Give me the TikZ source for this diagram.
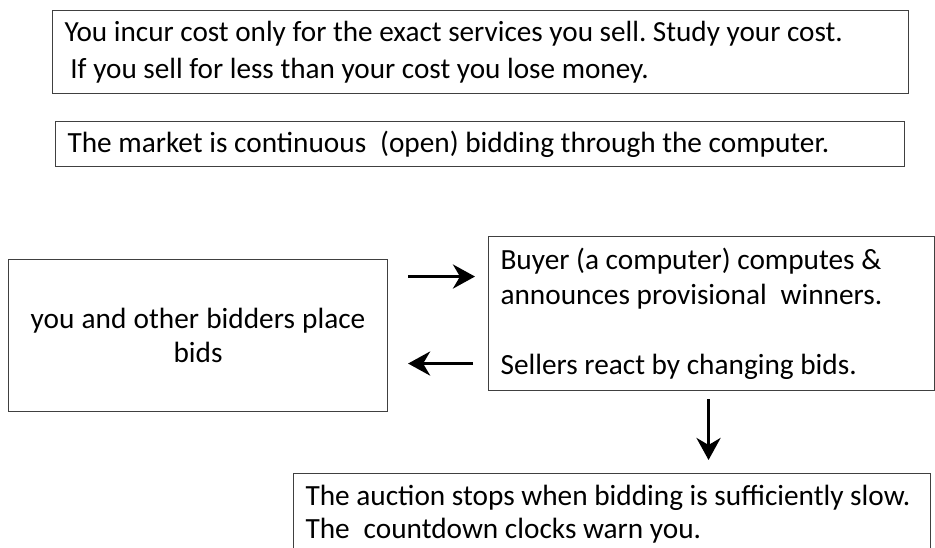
\documentclass[tikz,border=0pt]{standalone}
\usepackage{fontspec}
\setmainfont{Carlito}
\usetikzlibrary{arrows.meta,calc}
\newcommand\fontspaces{\frenchspacing\spaceskip=0pt\xspaceskip=0pt\relax}

\tikzset{
  rulebox/.style={draw=black!75, line width=1.1pt, anchor=north west, inner xsep=12pt,
    inner ysep=0pt, align=left, font=\fontsize{29.3}{35}\selectfont,
    execute at begin node=\fontspaces},
  flowarrow/.style={line width=3.6pt, -{Stealth[length=22pt,width=24pt,inset=7pt]}}
}

\begin{document}
\begin{tikzpicture}[x=1pt,y=-1pt]
			%%%%% START %%%%%
			\clip (0,0) rectangle (935,548);
			\useasboundingbox (0,0) rectangle (935,548);
			
			% rules of the market
			\node[rulebox, text width=832pt, minimum height=83pt,
			      font=\fontsize{29.2}{37}\selectfont] (cost) at (52,10)
			  {You incur cost only for the exact services you sell. Study your cost.\\
			   \hspace{0.2em}If you sell for less than your cost you lose money.};
			\node[rulebox, text width=825pt, minimum height=45pt] (market) at (55,121)
			  {The market is continuous\hspace{0.25em} (open) bidding through the computer.};
			
			% bidding loop
			\node[rulebox, text width=355pt, minimum height=152pt, align=center,
			      font=\fontsize{29.3}{34}\selectfont] (bids) at (8,259)
			  {you and other bidders place\\ bids};
			\node[rulebox, text width=422pt, minimum height=154pt] (buyer) at (488,236)
			  {Buyer (a computer) computes \&\\
			   announces provisional\hspace{0.25em} winners.\\[35pt]
			   Sellers react by changing bids.};
			\node[rulebox, text width=613pt, minimum height=82pt,
			      font=\fontsize{29.3}{33}\selectfont] (stop) at (293,473)
			  {The auction stops when bidding is sufficiently slow.\\
			   The\hspace{0.25em} countdown clocks warn you.};
			
			\coordinate (r1) at ($(bids.east)+(20,-59)$);
			\coordinate (l1) at ($(bids.east)+(20,28)$);
			\coordinate (d1) at ($(buyer.south)+(-3,8)$);
			\draw[flowarrow] (r1) -- ($(buyer.west |- r1)+(-13,0)$);
			\draw[flowarrow] ($(buyer.west |- l1)+(-15,0)$) -- (l1);
			\draw[flowarrow] (d1) -- ($(d1 |- stop.north)+(0,-13)$);
			
			%%%%% END %%%%%
\end{tikzpicture}
\end{document}
